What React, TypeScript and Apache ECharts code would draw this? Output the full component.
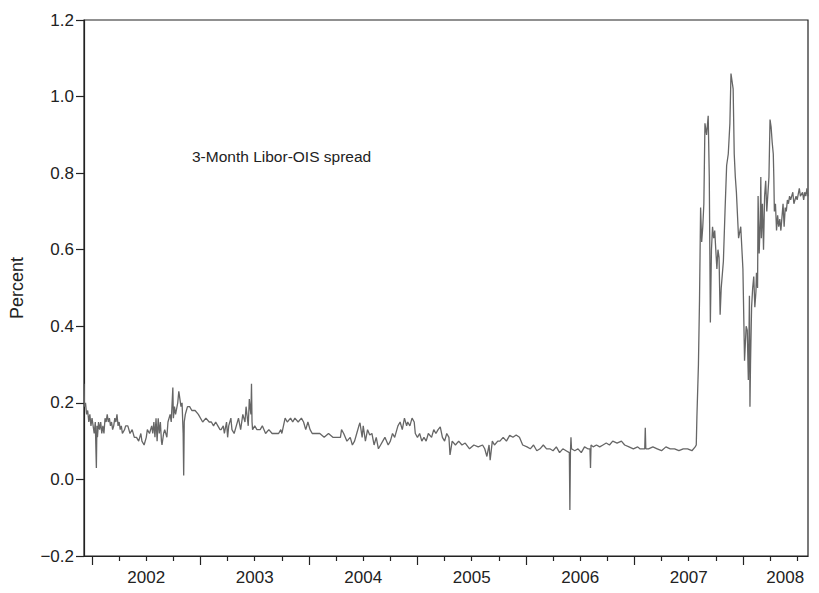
import React, { useEffect, useRef } from "react";
import * as echarts from "echarts";

// [fractional year, spread %]
const seg2002: [number, number][] = [
  [2001.926, 0.25], [2001.93, 0.19], [2001.94, 0.2], [2001.95, 0.17], [2001.96, 0.18], [2001.97, 0.15], [2001.98, 0.17], [2001.99, 0.14],
  [2002.0, 0.16], [2002.02, 0.12], [2002.03, 0.15], [2002.04, 0.03], [2002.045, 0.14], [2002.05, 0.11], [2002.06, 0.15], [2002.07, 0.13],
  [2002.08, 0.15], [2002.09, 0.12], [2002.1, 0.14], [2002.11, 0.12], [2002.12, 0.16], [2002.13, 0.15], [2002.14, 0.17], [2002.15, 0.15],
  [2002.16, 0.16], [2002.17, 0.14], [2002.18, 0.15], [2002.19, 0.13], [2002.2, 0.14], [2002.21, 0.16], [2002.22, 0.15], [2002.23, 0.17],
  [2002.24, 0.14], [2002.25, 0.15], [2002.26, 0.13], [2002.27, 0.14], [2002.28, 0.12], [2002.3, 0.13], [2002.31, 0.14], [2002.33, 0.14],
  [2002.35, 0.12], [2002.37, 0.13], [2002.39, 0.11], [2002.41, 0.11], [2002.43, 0.1], [2002.45, 0.12], [2002.46, 0.1], [2002.48, 0.09],
  [2002.5, 0.11], [2002.51, 0.13], [2002.53, 0.12], [2002.55, 0.14], [2002.56, 0.12], [2002.57, 0.15], [2002.58, 0.11], [2002.59, 0.16],
  [2002.6, 0.1], [2002.61, 0.16], [2002.62, 0.12], [2002.63, 0.15], [2002.64, 0.1], [2002.645, 0.09], [2002.66, 0.12], [2002.67, 0.13],
  [2002.69, 0.11], [2002.7, 0.15], [2002.72, 0.17], [2002.73, 0.15], [2002.745, 0.24], [2002.75, 0.16], [2002.76, 0.19], [2002.77, 0.17],
  [2002.79, 0.2], [2002.8, 0.23], [2002.82, 0.19], [2002.83, 0.2], [2002.84, 0.12], [2002.845, 0.01], [2002.85, 0.15], [2002.86, 0.17],
  [2002.87, 0.18], [2002.88, 0.19], [2002.9, 0.19], [2002.92, 0.18], [2002.95, 0.18], [2002.98, 0.17],
];
const seg2003: [number, number][] = [
  [2003.02, 0.15], [2003.05, 0.16], [2003.08, 0.15], [2003.1, 0.15], [2003.12, 0.14], [2003.14, 0.15], [2003.16, 0.14], [2003.18, 0.13],
  [2003.19, 0.13], [2003.21, 0.14], [2003.22, 0.12], [2003.24, 0.15], [2003.25, 0.11], [2003.26, 0.14], [2003.28, 0.16], [2003.29, 0.13],
  [2003.31, 0.12], [2003.33, 0.14], [2003.35, 0.16], [2003.37, 0.13], [2003.39, 0.17], [2003.41, 0.15], [2003.42, 0.19], [2003.44, 0.14],
  [2003.45, 0.21], [2003.46, 0.18], [2003.465, 0.17], [2003.47, 0.25], [2003.475, 0.15], [2003.48, 0.13], [2003.5, 0.14], [2003.52, 0.13],
  [2003.55, 0.13], [2003.57, 0.14], [2003.6, 0.12], [2003.63, 0.13], [2003.66, 0.12], [2003.69, 0.12], [2003.72, 0.12], [2003.74, 0.13],
  [2003.75, 0.12], [2003.78, 0.16], [2003.8, 0.15], [2003.83, 0.16], [2003.85, 0.15], [2003.87, 0.16], [2003.9, 0.15], [2003.93, 0.16],
  [2003.95, 0.15], [2003.97, 0.13], [2003.99, 0.15],
];
const seg2004: [number, number][] = [
  [2004.01, 0.13], [2004.03, 0.12], [2004.06, 0.12], [2004.1, 0.12], [2004.14, 0.11], [2004.18, 0.12], [2004.22, 0.11], [2004.26, 0.11],
  [2004.29, 0.11], [2004.3, 0.13], [2004.32, 0.12], [2004.35, 0.1], [2004.38, 0.11], [2004.4, 0.09], [2004.42, 0.1], [2004.44, 0.12],
  [2004.46, 0.14], [2004.47, 0.148], [2004.49, 0.11], [2004.5, 0.14], [2004.52, 0.1], [2004.54, 0.13], [2004.56, 0.116], [2004.58, 0.12],
  [2004.6, 0.09], [2004.62, 0.11], [2004.64, 0.08], [2004.66, 0.09], [2004.68, 0.1], [2004.7, 0.11], [2004.73, 0.09], [2004.75, 0.1],
  [2004.77, 0.12], [2004.79, 0.11], [2004.81, 0.13], [2004.82, 0.14], [2004.84, 0.15], [2004.86, 0.13], [2004.88, 0.16], [2004.9, 0.14],
  [2004.91, 0.15], [2004.93, 0.14], [2004.95, 0.16], [2004.97, 0.15], [2004.98, 0.12],
];
const seg2005: [number, number][] = [
  [2005.0, 0.11], [2005.02, 0.12], [2005.04, 0.1], [2005.06, 0.11], [2005.08, 0.1], [2005.1, 0.12], [2005.13, 0.11], [2005.15, 0.13],
  [2005.17, 0.12], [2005.19, 0.13], [2005.21, 0.137], [2005.23, 0.11], [2005.25, 0.1], [2005.27, 0.12], [2005.29, 0.11], [2005.3, 0.064],
  [2005.32, 0.1], [2005.35, 0.09], [2005.38, 0.1], [2005.41, 0.09], [2005.44, 0.095], [2005.48, 0.08], [2005.52, 0.09], [2005.56, 0.085],
  [2005.6, 0.09], [2005.62, 0.08], [2005.64, 0.06], [2005.66, 0.09], [2005.67, 0.05], [2005.69, 0.1], [2005.71, 0.09], [2005.74, 0.1],
  [2005.76, 0.1], [2005.79, 0.11], [2005.82, 0.1], [2005.85, 0.115], [2005.88, 0.11], [2005.91, 0.116], [2005.94, 0.11], [2005.97, 0.09],
];
const seg2006: [number, number][] = [
  [2006.01, 0.085], [2006.04, 0.08], [2006.07, 0.09], [2006.1, 0.075], [2006.13, 0.08], [2006.16, 0.09], [2006.19, 0.08], [2006.22, 0.08],
  [2006.25, 0.075], [2006.28, 0.085], [2006.31, 0.07], [2006.34, 0.08], [2006.37, 0.075], [2006.4, 0.07], [2006.405, -0.08], [2006.41, 0.07],
  [2006.415, 0.11], [2006.42, 0.08], [2006.45, 0.075], [2006.48, 0.08], [2006.51, 0.07], [2006.54, 0.085], [2006.57, 0.08], [2006.59, 0.08],
  [2006.595, 0.03], [2006.6, 0.09], [2006.62, 0.085], [2006.65, 0.09], [2006.68, 0.085], [2006.71, 0.09], [2006.74, 0.095], [2006.77, 0.09],
  [2006.8, 0.1], [2006.84, 0.095], [2006.88, 0.1], [2006.91, 0.09], [2006.95, 0.085], [2006.99, 0.08],
];
const seg2007: [number, number][] = [
  [2007.03, 0.085], [2007.05, 0.08], [2007.08, 0.08], [2007.095, 0.08], [2007.1, 0.135], [2007.105, 0.08], [2007.13, 0.08], [2007.17, 0.085],
  [2007.21, 0.08], [2007.25, 0.075], [2007.29, 0.085], [2007.33, 0.08], [2007.37, 0.08], [2007.41, 0.075], [2007.45, 0.08], [2007.49, 0.08],
  [2007.53, 0.075], [2007.56, 0.085], [2007.57, 0.09], [2007.576, 0.164], [2007.59, 0.3], [2007.6, 0.47], [2007.61, 0.71], [2007.62, 0.62],
  [2007.63, 0.66], [2007.64, 0.72], [2007.65, 0.93], [2007.665, 0.9], [2007.68, 0.95], [2007.69, 0.79], [2007.70, 0.41], [2007.71, 0.6],
  [2007.72, 0.66], [2007.73, 0.63], [2007.74, 0.65], [2007.75, 0.6], [2007.76, 0.55], [2007.77, 0.6], [2007.78, 0.58], [2007.79, 0.43],
  [2007.80, 0.5], [2007.82, 0.57], [2007.835, 0.7], [2007.85, 0.82], [2007.865, 0.85], [2007.88, 0.93], [2007.89, 1.06], [2007.90, 1.04],
  [2007.91, 1.02], [2007.92, 0.85], [2007.93, 0.79], [2007.94, 0.75], [2007.96, 0.63], [2007.98, 0.66],
];
const seg2008: [number, number][] = [
  [2008.0, 0.55], [2008.015, 0.31], [2008.03, 0.4], [2008.04, 0.39], [2008.05, 0.26], [2008.055, 0.35], [2008.06, 0.48], [2008.065, 0.19],
  [2008.07, 0.3], [2008.08, 0.45], [2008.09, 0.5], [2008.1, 0.53], [2008.11, 0.45], [2008.12, 0.49], [2008.125, 0.54], [2008.135, 0.5],
  [2008.14, 0.74], [2008.15, 0.59], [2008.16, 0.68], [2008.165, 0.79], [2008.17, 0.63], [2008.18, 0.72], [2008.19, 0.6], [2008.2, 0.74],
  [2008.21, 0.78], [2008.22, 0.7], [2008.24, 0.79], [2008.25, 0.94], [2008.26, 0.92], [2008.27, 0.88], [2008.28, 0.85], [2008.285, 0.79],
  [2008.29, 0.7], [2008.3, 0.72], [2008.31, 0.65], [2008.32, 0.69], [2008.33, 0.66], [2008.34, 0.68], [2008.35, 0.65], [2008.37, 0.72],
  [2008.38, 0.66], [2008.39, 0.71], [2008.4, 0.7], [2008.41, 0.73], [2008.42, 0.72], [2008.43, 0.74], [2008.44, 0.73], [2008.46, 0.75],
  [2008.47, 0.72], [2008.49, 0.74], [2008.5, 0.73], [2008.52, 0.76], [2008.53, 0.74], [2008.55, 0.75], [2008.56, 0.73], [2008.57, 0.75],
  [2008.58, 0.74], [2008.59, 0.76], [2008.6, 0.74],
];

const yearTicks = [2002, 2003, 2004, 2005, 2006, 2007, 2008];
const quarterTicks = [2002.25, 2002.5, 2002.75, 2003.25, 2003.5, 2003.75, 2004.25, 2004.5, 2004.75, 2005.25, 2005.5, 2005.75, 2006.25, 2006.5, 2006.75, 2007.25, 2007.5, 2007.75, 2008.25, 2008.5];
const yearLabelPos = [2002.5, 2003.5, 2004.5, 2005.5, 2006.5, 2007.5, 2008.39];

export default function App() {
  const ref = useRef<HTMLDivElement>(null);
  useEffect(() => {
    const chart = echarts.init(ref.current!, null, { renderer: "svg" });
    const font = "Liberation Sans, Arial, sans-serif";
    const data = [...seg2002, ...seg2003, ...seg2004, ...seg2005, ...seg2006, ...seg2007, ...seg2008];
    chart.setOption({
      animation: false,
      grid: { left: 84, right: 11, top: 20, bottom: 37, show: true, borderColor: "#222", borderWidth: 1.2 },
      xAxis: [
        {
          type: "value", min: 2001.926, max: 2008.6,
          axisLine: { show: true, onZero: false, lineStyle: { color: "#222", width: 1.2 } },
          axisTick: { show: true, customValues: yearTicks, length: 9, lineStyle: { color: "#222", width: 1.2 } },
          axisLabel: { show: true, customValues: yearLabelPos, formatter: (v: number) => String(Math.floor(v)), color: "#222", fontSize: 17, fontFamily: font, margin: 13 },
          splitLine: { show: false },
        },
        {
          type: "value", min: 2001.926, max: 2008.6, position: "bottom",
          axisLine: { show: false, onZero: false },
          axisTick: { show: true, customValues: quarterTicks, length: 5, lineStyle: { color: "#222", width: 1.2 } },
          axisLabel: { show: false },
          splitLine: { show: false },
        },
      ],
      yAxis: {
        type: "value", min: -0.2, max: 1.2, interval: 0.2,
        name: "Percent", nameLocation: "middle", nameGap: 58,
        nameTextStyle: { fontSize: 18, color: "#222", fontFamily: font },
        axisLine: { show: true, lineStyle: { color: "#222", width: 1.2 } },
        axisTick: { show: true, length: 8, lineStyle: { color: "#222", width: 1.2 } },
        axisLabel: { color: "#222", fontSize: 17, fontFamily: font, margin: 10, formatter: (v: number) => (v < 0 ? "\u2212" + Math.abs(v).toFixed(1) : v.toFixed(1)) },
        splitLine: { show: false },
      },
      graphic: [
        { type: "text", left: 192, top: 148, style: { text: "3-Month Libor-OIS spread", fontSize: 15.5, fill: "#222", fontFamily: font } },
      ],
      series: [
        {
          type: "line", xAxisIndex: 0, showSymbol: false, symbol: "none",
          data,
          lineStyle: { color: "#666", width: 1.3 },
        },
      ],
    });
    return () => chart.dispose();
  }, []);
  return <div ref={ref} style={{ position: "absolute", left: 0, top: 0, width: 819, height: 593 }} />;
}
